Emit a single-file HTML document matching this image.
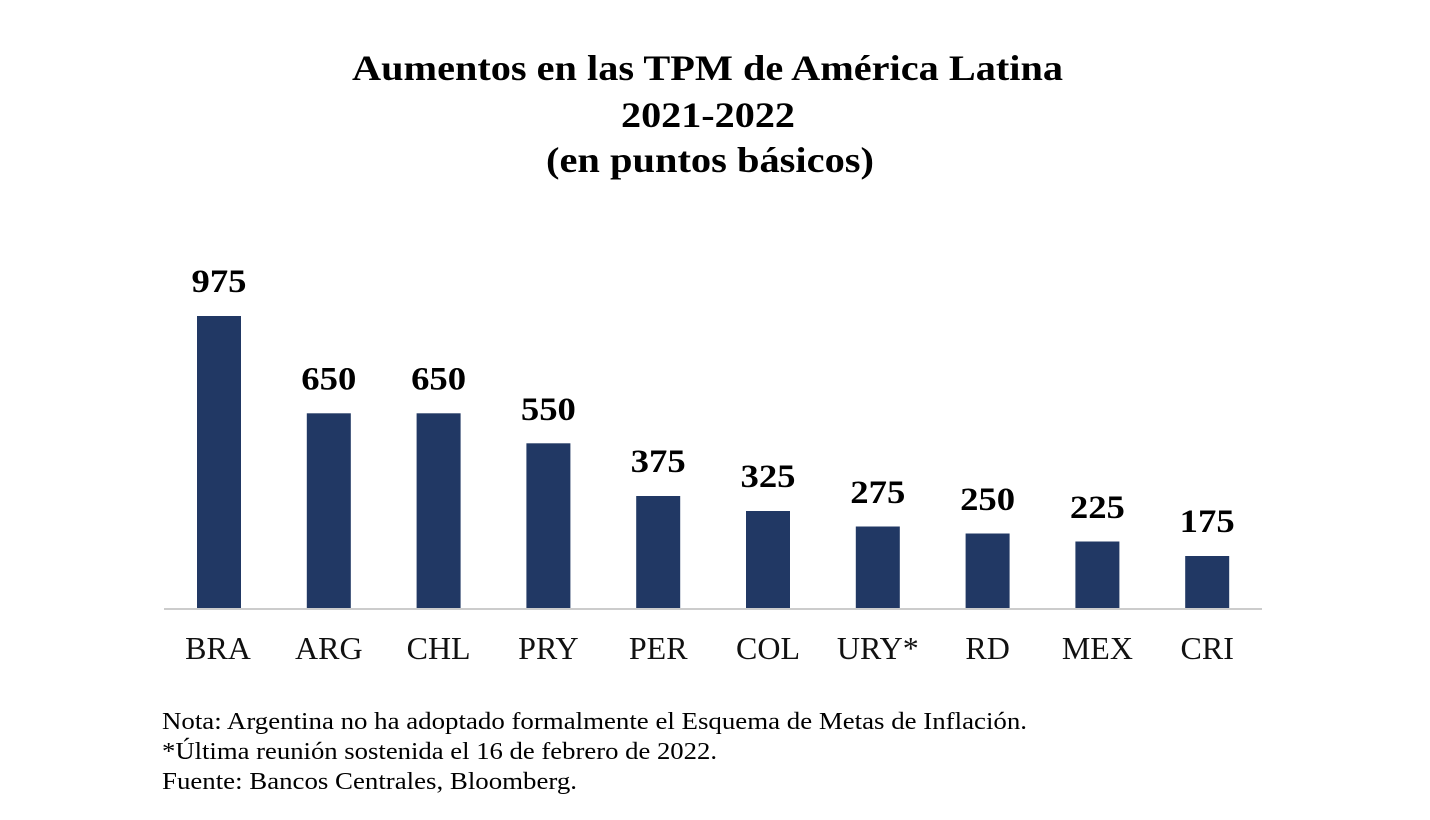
<!DOCTYPE html>
<html>
<head>
<meta charset="utf-8">
<style>
  html, body { margin: 0; padding: 0; background: #ffffff; }
  body { width: 1430px; height: 820px; overflow: hidden; }
  svg { display: block; }
  .t { font-family: "Liberation Serif", "Times New Roman", serif; font-weight: bold; font-size: 36px; fill: #000; }
  .v { font-family: "Liberation Serif", "Times New Roman", serif; font-weight: bold; font-size: 33px; fill: #000; }
  .c { font-family: "Liberation Serif", "Times New Roman", serif; font-size: 32px; fill: #111; }
  .n { font-family: "Liberation Serif", "Times New Roman", serif; font-size: 24px; fill: #000; }
</style>
</head>
<body>
<svg width="1430" height="820" viewBox="0 0 1430 820" xmlns="http://www.w3.org/2000/svg">
  <!-- Title -->
  <text class="t" x="352" y="80" textLength="711" lengthAdjust="spacingAndGlyphs">Aumentos en las TPM de América Latina</text>
  <text class="t" x="621" y="127" textLength="174" lengthAdjust="spacingAndGlyphs">2021-2022</text>
  <text class="t" x="546" y="172" textLength="328" lengthAdjust="spacingAndGlyphs">(en puntos básicos)</text>

  <!-- Bars -->
  <g fill="#213864">
    <rect x="197" y="316" width="44" height="292"/>
    <rect x="306.8" y="413.3" width="44" height="194.7"/>
    <rect x="416.6" y="413.3" width="44" height="194.7"/>
    <rect x="526.4" y="443.3" width="44" height="164.7"/>
    <rect x="636.2" y="496" width="44" height="112"/>
    <rect x="746" y="511" width="44" height="97"/>
    <rect x="855.8" y="526.5" width="44" height="81.5"/>
    <rect x="965.6" y="533.5" width="44" height="74.5"/>
    <rect x="1075.4" y="541.5" width="44" height="66.5"/>
    <rect x="1185.2" y="556" width="44" height="52"/>
  </g>

  <!-- Axis line -->
  <line x1="164" y1="609" x2="1262" y2="609" stroke="#cccccc" stroke-width="2"/>

  <!-- Value labels -->
  <g text-anchor="middle">
    <text class="v" x="219" y="292" textLength="55" lengthAdjust="spacingAndGlyphs">975</text>
    <text class="v" x="328.8" y="389.5" textLength="55" lengthAdjust="spacingAndGlyphs">650</text>
    <text class="v" x="438.6" y="389.5" textLength="55" lengthAdjust="spacingAndGlyphs">650</text>
    <text class="v" x="548.4" y="420" textLength="55" lengthAdjust="spacingAndGlyphs">550</text>
    <text class="v" x="658.2" y="472" textLength="55" lengthAdjust="spacingAndGlyphs">375</text>
    <text class="v" x="768" y="487" textLength="55" lengthAdjust="spacingAndGlyphs">325</text>
    <text class="v" x="877.8" y="503" textLength="55" lengthAdjust="spacingAndGlyphs">275</text>
    <text class="v" x="987.6" y="510" textLength="55" lengthAdjust="spacingAndGlyphs">250</text>
    <text class="v" x="1097.4" y="518" textLength="55" lengthAdjust="spacingAndGlyphs">225</text>
    <text class="v" x="1207.2" y="532" textLength="55" lengthAdjust="spacingAndGlyphs">175</text>
  </g>

  <!-- Category labels -->
  <g text-anchor="middle">
    <text class="c" x="218" y="659">BRA</text>
    <text class="c" x="328.8" y="659">ARG</text>
    <text class="c" x="438.6" y="659">CHL</text>
    <text class="c" x="548.4" y="659">PRY</text>
    <text class="c" x="658.2" y="659">PER</text>
    <text class="c" x="768" y="659">COL</text>
    <text class="c" x="877.8" y="659">URY*</text>
    <text class="c" x="987.6" y="659">RD</text>
    <text class="c" x="1097.4" y="659">MEX</text>
    <text class="c" x="1207.2" y="659">CRI</text>
  </g>

  <!-- Footnotes -->
  <text class="n" x="162" y="729" textLength="865" lengthAdjust="spacingAndGlyphs">Nota: Argentina no ha adoptado formalmente el Esquema de Metas de Inflación.</text>
  <text class="n" x="162" y="759" textLength="555" lengthAdjust="spacingAndGlyphs">*Última reunión sostenida el 16 de febrero de 2022.</text>
  <text class="n" x="162" y="789" textLength="415" lengthAdjust="spacingAndGlyphs">Fuente: Bancos Centrales, Bloomberg.</text>
</svg>
</body>
</html>
